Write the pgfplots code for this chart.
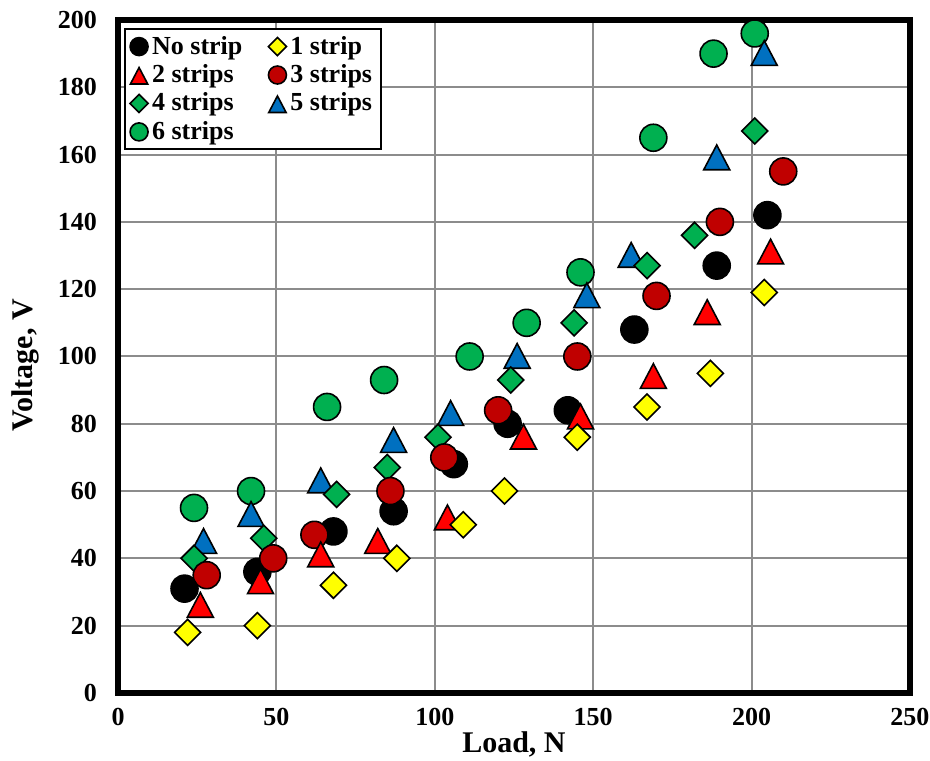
\documentclass[border=0pt]{standalone}
\usepackage{fontspec}
\setmainfont{Liberation Serif}
\usepackage{pgfplots}
\pgfplotsset{compat=1.18}

\definecolor{xlDarkRed}{HTML}{C00000}
\definecolor{xlGreen}{HTML}{00B050}
\definecolor{xlBlue}{HTML}{0070C0}
\definecolor{xlYellow}{HTML}{FFFF00}
\definecolor{xlRed}{HTML}{FF0000}
\definecolor{gridGray}{HTML}{8C8C8C}

% marker shapes, size given as argument so the legend can use smaller ones
\pgfplotsset{
  circ/.style 2 args={only marks, mark=*, mark size=#1,
    mark options={draw=black, fill=#2, line width=0.8pt}},
  diam/.style 2 args={only marks, mark=square*, mark size=#1,
    mark options={draw=black, fill=#2, line width=0.8pt, rotate=45}},
  tri/.style 2 args={only marks, mark=triangle*, mark size=#1,
    mark options={draw=black, fill=#2, line width=0.8pt, yscale=1.1, yshift=-1.6pt}},
}

\begin{document}
\begin{tikzpicture}
\begin{axis}[
  scale only axis, width=396pt, height=336.5pt,
  xmin=0, xmax=250, ymin=0, ymax=200,
  xtick={0,50,...,250}, ytick={0,20,...,200},
  grid=major, major grid style={gridGray, line width=1pt},
  axis line style={line width=3pt}, tick style={draw=none},
  clip=false,
  /pgf/number format/assume math mode=true,
  ticklabel style={font=\fontsize{13}{15}\selectfont\bfseries},
  xticklabel style={yshift=-4pt}, yticklabel style={xshift=-7pt},
  xlabel={Load, N}, ylabel={Voltage, V},
  label style={font=\fontsize{15}{18}\selectfont\bfseries},
  xlabel style={at={(axis description cs:0.5,-0.077)}, anchor=center},
  ylabel style={at={(axis description cs:-0.117,0.487)}, anchor=center},
  legend columns=2,
  legend style={at={(rel axis cs:0.0076,0.988)}, anchor=north west,
    draw=black, line width=1pt, fill=white,
    font=\fontsize{13}{15}\selectfont\bfseries,
    row sep=-0.3pt, inner xsep=2.5pt, inner ysep=1.5pt},
  legend cell align=left,
  legend image code/.code={\draw[#1] plot coordinates {(0.16cm,0cm)};},
  /tikz/every even column/.append style={column sep=11pt},
]
% legend entries first, in the reference's order
\addlegendimage{circ={4.5pt}{black}}\addlegendentry{No strip}
\addlegendimage{diam={3.2pt}{xlYellow}}\addlegendentry{1 strip}
\addlegendimage{tri={5pt}{xlRed}}\addlegendentry{2 strips}
\addlegendimage{circ={4.5pt}{xlDarkRed}}\addlegendentry{3 strips}
\addlegendimage{diam={3.2pt}{xlGreen}}\addlegendentry{4 strips}
\addlegendimage{tri={5pt}{xlBlue}}\addlegendentry{5 strips}
\addlegendimage{circ={4.5pt}{xlGreen}}\addlegendentry{6 strips}

% No strip
\addplot[circ={6.75pt}{black}, forget plot] coordinates {
  (21,31) (44,36) (68,48) (87,54) (106,68) (123,80) (142,84) (163,108) (189,127) (205,142)};
% 6 strips
\addplot[circ={6.75pt}{xlGreen}, forget plot] coordinates {
  (24,55) (42,60) (66,85) (84,93) (111,100) (129,110) (146,125) (169,165) (188,190) (201,196)};
% 5 strips
\addplot[tri={7.5pt}{xlBlue}, forget plot] coordinates {
  (27,45) (42,53) (64,63) (87,75) (105,83) (126,100) (148,118) (162,130) (189,159) (204,190)};
% 4 strips
\addplot[diam={4.6pt}{xlGreen}, forget plot] coordinates {
  (24,40) (46,46) (69,59) (85,67) (101,76) (124,93) (144,110) (167,127) (182,136) (201,167)};
% 3 strips
\addplot[circ={6.75pt}{xlDarkRed}, forget plot] coordinates {
  (28,35) (49,40) (62,47) (86,60) (103,70) (120,84) (145,100) (170,118) (190,140) (210,155)};
% 2 strips
\addplot[tri={7.5pt}{xlRed}, forget plot] coordinates {
  (26,26) (45,33) (64,41) (82,45) (104,52) (128,76) (146,82) (169,94) (186,113) (206,131)};
% 1 strip
\addplot[diam={4.6pt}{xlYellow}, forget plot] coordinates {
  (22,18) (44,20) (68,32) (88,40) (109,50) (122,60) (145,76) (167,85) (187,95) (204,119)};

\coordinate (bbA) at (rel axis cs:-0.149,-0.101);
\coordinate (bbB) at (rel axis cs:1.0253,1.0297);
\end{axis}
\pgfresetboundingbox
\path (bbA) rectangle (bbB);
\end{tikzpicture}
\end{document}
